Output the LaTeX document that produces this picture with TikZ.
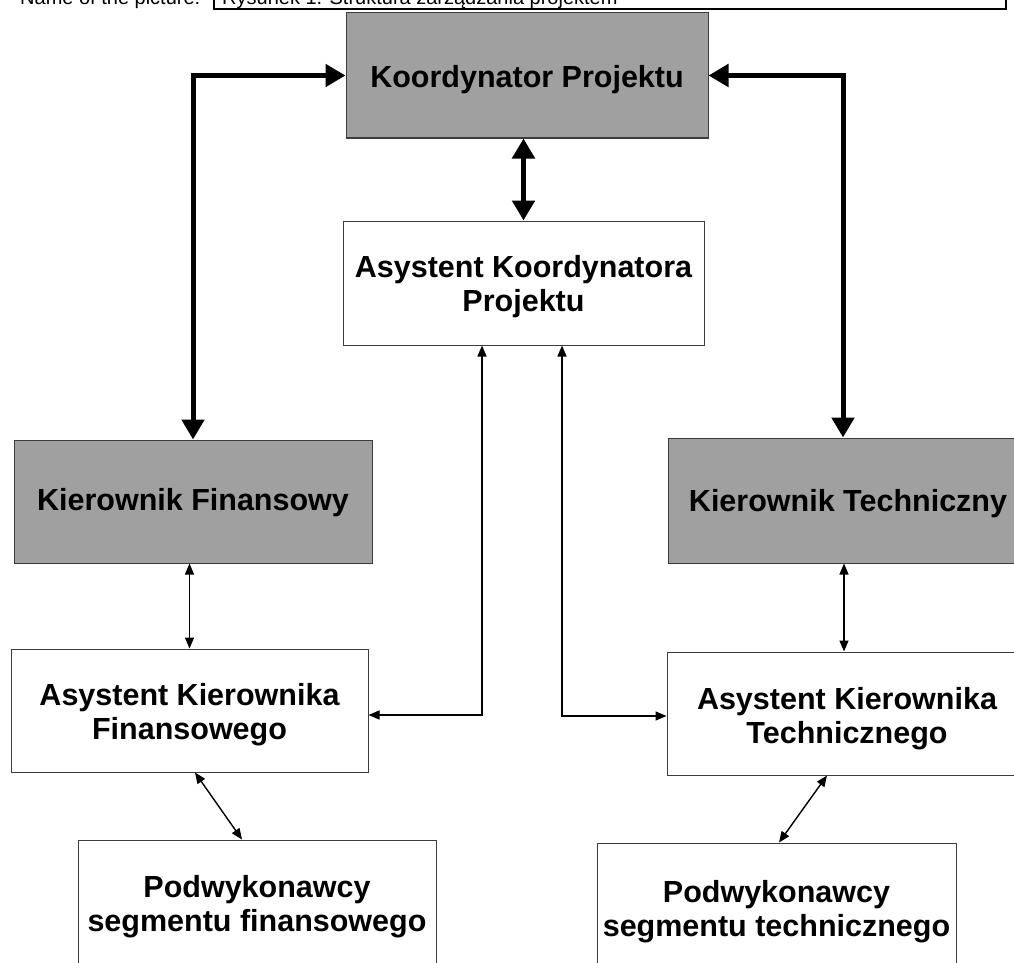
\documentclass[tikz,border=0pt]{standalone}
\usepackage{fontspec}
\setmainfont{Liberation Sans}
\usetikzlibrary{arrows.meta}
\definecolor{boxgray}{RGB}{160,160,160}
\definecolor{edgegray}{RGB}{60,60,60}
\newcommand\lowr[2]{\raisebox{-#1}[\height][\depth]{#2}}
\tikzset{
  box/.style={draw=edgegray, line width=1pt, rectangle, inner sep=0pt, align=center,
    font=\bfseries\fontsize{30.5}{34}\selectfont},
  graybox/.style={box, fill=boxgray},
  whitebox/.style={box, fill=white},
  thickarr/.style={line width=5pt, {Triangle[length=20pt,width=22pt]}-{Triangle[length=20pt,width=22pt]}},
  thinarr/.style={line width=1.4pt, {Triangle[length=11pt,width=9pt]}-{Triangle[length=11pt,width=9pt]}},
  hdrtext/.style={anchor=base west, inner sep=0pt, font=\fontsize{20}{24}\selectfont}
}
\begin{document}
\begin{tikzpicture}[x=1pt,y=-1pt]
\useasboundingbox (0,0) rectangle (1014,963);
\clip (0,0) rectangle (1014,963);
% header strip (cut off at the top, as in the scan)
\draw[line width=1.2pt] (214,-20) rectangle (1006,9);
\node[hdrtext] (npic) at (20,5) {Name of the picture:};
\node[hdrtext] (title) at (222,5) {Rysunek 1. Struktura zarządzania projektem};
% boxes
\node[graybox, minimum width=362, minimum height=125] (KP) at (527,75.5) {\lowr{4.5pt}{Koordynator Projektu}};
\node[whitebox, minimum width=361, minimum height=124] (AK) at (523.5,283) {\lowr{4pt}{Asystent Koordynatora}\\\lowr{4pt}{Projektu}};
\node[graybox, minimum width=358, minimum height=123] (KF) at (193,501.5) {\lowr{1pt}{Kierownik Finansowy}};
\node[graybox, minimum width=360, minimum height=125] (KT) at (848,500.5) {\lowr{3pt}{Kierownik Techniczny}};
\node[whitebox, minimum width=357, minimum height=123] (AKF) at (189.5,710.5) {\lowr{4.5pt}{Asystent Kierownika}\\\lowr{4.5pt}{Finansowego}};
\node[whitebox, minimum width=360, minimum height=123] (AKT) at (847,713.5) {\lowr{5pt}{Asystent Kierownika}\\\lowr{5pt}{Technicznego}};
\node[whitebox, minimum width=358, minimum height=134] (PF) at (257,907) {Podwykonawcy\\segmentu finansowego};
\node[whitebox, minimum width=359, minimum height=134] (PT) at (776.5,910) {\lowr{2pt}{Podwykonawcy}\\\lowr{2pt}{segmentu technicznego}};
% helper coordinates
\coordinate (cR) at (843,0);
\coordinate (cT) at (844,0);
\coordinate (c1) at (482,715);
\coordinate (c2) at (562,716);
\coordinate (d1) at (195,0);
\coordinate (d2) at (242,0);
\coordinate (d3) at (827,0);
\coordinate (d4) at (779,0);
% thick connectors
\draw[thickarr] (KF.north) |- (KP.west);
\draw[thickarr] (KP.east) -| (KT.north -| cR);
\draw[thickarr] (KP.south -| AK.north) -- (AK.north);
% thin connectors
\draw[thinarr] (KF.south -| AKF.north) -- (AKF.north);
\draw[thinarr] (KT.south -| cT) -- (AKT.north -| cT);
\draw[thinarr] (AK.south -| c1) |- (AKF.east |- c1);
\draw[thinarr] (AK.south -| c2) |- (AKT.west |- c2);
\draw[thinarr] (AKF.south -| d1) -- (PF.north -| d2);
\draw[thinarr] (AKT.south -| d3) -- (PT.north -| d4);
\end{tikzpicture}
\end{document}
